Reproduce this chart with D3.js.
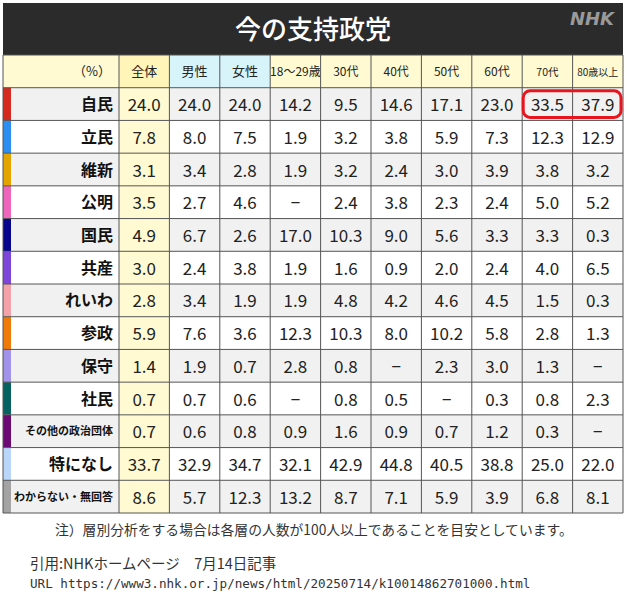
<!DOCTYPE html><html><head><meta charset="utf-8">
<script src="https://cdn.jsdelivr.net/npm/d3@7"></script>
<style>body{margin:0;background:#fff}</style></head><body><svg id="c" width="627" height="600"></svg>
<script>
const columns=["全体","男性","女性","18〜29歳","30代","40代","50代","60代","70代","80歳以上"];
const parties=["自民","立民","維新","公明","国民","共産","れいわ","参政","保守","社民","その他の政治団体","特になし","わからない・無回答"];
const partyColors=["#d42a1f","#2b8ef0","#e4a400","#ee66bb","#06068c","#7d46d8","#f3a2aa","#ee7a0a","#a293ea","#056260","#6b0a73","#b9d5f9","#a3a3a3"];
const values=[
[24.0,24.0,24.0,14.2,9.5,14.6,17.1,23.0,33.5,37.9],
[7.8,8.0,7.5,1.9,3.2,3.8,5.9,7.3,12.3,12.9],
[3.1,3.4,2.8,1.9,3.2,2.4,3.0,3.9,3.8,3.2],
[3.5,2.7,4.6,null,2.4,3.8,2.3,2.4,5.0,5.2],
[4.9,6.7,2.6,17.0,10.3,9.0,5.6,3.3,3.3,0.3],
[3.0,2.4,3.8,1.9,1.6,0.9,2.0,2.4,4.0,6.5],
[2.8,3.4,1.9,1.9,4.8,4.2,4.6,4.5,1.5,0.3],
[5.9,7.6,3.6,12.3,10.3,8.0,10.2,5.8,2.8,1.3],
[1.4,1.9,0.7,2.8,0.8,null,2.3,3.0,1.3,null],
[0.7,0.7,0.6,null,0.8,0.5,null,0.3,0.8,2.3],
[0.7,0.6,0.8,0.9,1.6,0.9,0.7,1.2,0.3,null],
[33.7,32.9,34.7,32.1,42.9,44.8,40.5,38.8,25.0,22.0],
[8.6,5.7,12.3,13.2,8.7,7.1,5.9,3.9,6.8,8.1]];
const svg=d3.select("#c");
const F="'Noto Sans CJK JP','Noto Sans',sans-serif";
const L=3,R=623,labelW=116;
const x=d3.scaleBand().domain(columns).range([L+labelW,R]);
const y=d3.scaleBand().domain(["head",...parties]).range([55,513]);
const hy=y("head"),hh=y.bandwidth();
svg.append("rect").attr("x",L).attr("y",3).attr("width",R-L).attr("height",52).attr("fill","#2b2b2b");
svg.append("text").attr("x",313).attr("y",39).attr("text-anchor","middle").attr("fill","#fff").attr("font-family",F).attr("font-size",26).attr("font-weight",500).text("今の支持政党");
svg.append("text").attr("x",614).attr("y",25).attr("text-anchor","end").attr("fill","#9a9a9a").attr("font-family","'DejaVu Sans',sans-serif").attr("font-size",18).attr("font-weight","bold").attr("font-style","italic").text("NHK");
svg.append("rect").attr("x",L).attr("y",hy).attr("width",labelW).attr("height",hh).attr("fill","#fffad2");
svg.append("text").attr("x",L+labelW-8).attr("y",hy+hh/2+5).attr("text-anchor","end").attr("font-family",F).attr("font-size",13).attr("fill","#222").text("（%）");
columns.forEach((c,i)=>{
  svg.append("rect").attr("x",x(c)).attr("y",hy).attr("width",x.bandwidth()).attr("height",hh)
   .attr("fill",i==0?"#fff5b8":(i<3?"#d8f4fb":"#fffad2"));
  const fs=i<3?13:(i<8?12:(i==3?10:(i==8?10.5:10)));
  svg.append("text").attr("x",x(c)+x.bandwidth()/2).attr("y",hy+hh/2+5).attr("text-anchor","middle").attr("font-family",F).attr("font-size",fs).attr("fill","#222").text(c);
});
parties.forEach((p,r)=>{
  const yy=y(p),bg=r%2==0?"#f1f1f1":"#ffffff";
  svg.append("rect").attr("x",L).attr("y",yy).attr("width",R-L).attr("height",y.bandwidth()).attr("fill",bg);
  svg.append("rect").attr("x",x(columns[0])).attr("y",yy).attr("width",x.bandwidth()).attr("height",y.bandwidth()).attr("fill","#fffad2");
  svg.append("rect").attr("x",L).attr("y",yy).attr("width",8).attr("height",y.bandwidth()).attr("fill",partyColors[r]);
  const long=p.length>5;
  svg.append("text").attr("x",L+labelW-6).attr("y",yy+y.bandwidth()/2+(long?4:6)).attr("text-anchor","end").attr("font-family",F).attr("font-weight","bold").attr("font-size",long?11:16).attr("fill","#111").text(p);
  values[r].forEach((v,i)=>{
    svg.append("text").attr("x",x(columns[i])+x.bandwidth()/2).attr("y",yy+y.bandwidth()/2+7).attr("text-anchor","middle").attr("font-family",F).attr("font-size",17).attr("fill","#222").text(v==null?"−":v.toFixed(1));
  });
});
const g=svg.append("g").attr("stroke","#555").attr("stroke-width",1);
[L,...columns.map(c=>x(c)),R].forEach(v=>g.append("line").attr("x1",v).attr("x2",v).attr("y1",55).attr("y2",513));
["head",...parties].forEach(p=>g.append("line").attr("x1",L).attr("x2",R).attr("y1",y(p)).attr("y2",y(p)));
g.append("line").attr("x1",L).attr("x2",R).attr("y1",513).attr("y2",513);
svg.append("rect").attr("x",x("70代")+1).attr("y",y("自民")+3).attr("width",x.bandwidth()*2-3).attr("height",y.bandwidth()-6).attr("rx",7).attr("fill","none").attr("stroke","#e8141e").attr("stroke-width",3);
svg.append("text").attr("x",55).attr("y",535).attr("font-family",F).attr("font-size",13.8).attr("fill","#333").text("注）層別分析をする場合は各層の人数が100人以上であることを目安としています。");
svg.append("text").attr("x",30).attr("y",569).attr("font-family",F).attr("font-size",14.5).attr("fill","#333").text("引用:NHKホームページ　7月14日記事");
svg.append("text").attr("x",30).attr("y",588).attr("font-family","'DejaVu Sans Mono','Liberation Mono',monospace").attr("font-size",12.6).attr("fill","#333").text("URL https://www3.nhk.or.jp/news/html/20250714/k10014862701000.html");
</script></body></html>
